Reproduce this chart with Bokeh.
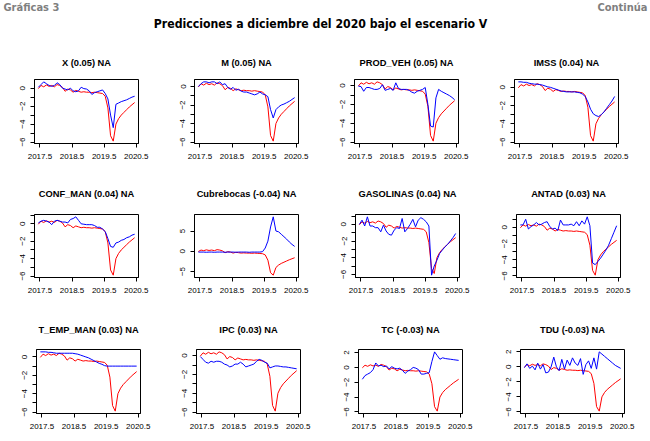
from bokeh.plotting import figure
from bokeh.layouts import column, row
from bokeh.models import FixedTicker, Label, DataRange1d, Range1d
from bokeh.embed import file_html
from bokeh.resources import INLINE

# ---------------- data ----------------
fecha = [round(2017.45 + k / 12, 4) for k in range(37)]  # monthly time index

# escenario V (red, common to all panels)
escenario_v = [-0.05, 0.3, 0.15, 0.35, 0.2, 0.3, 0.15, 0.4, 0.3, 0.1, -0.35, -0.1,
               -0.2, -0.45, -0.25, -0.35, -0.45, -0.4, -0.45, -0.45, -0.5, -0.45,
               -0.5, -0.55, -0.6, -0.9, -2.2, -5.3, -5.9, -4.0, -3.4, -3.0, -2.7,
               -2.4, -2.1, -1.85, -1.6]

x_blue = [0.1, 0.4, 0.7, 0.5, 0.3, 0.2, 0.3, 0.6, 0.4, 0.0, -0.1, -0.2, 0.0, -0.3,
          -0.4, -0.3, 0.1, -0.05, -0.1, -0.3, -0.7, -0.5, -0.4, -0.3, -0.2, -0.6,
          -1.2, -3.0, -4.4, -1.8, -1.65, -1.5, -1.4, -1.3, -1.15, -1.0, -0.9]
m_blue = [0.0, 0.3, 0.5, 0.5, 0.4, 0.5, 0.5, 0.3, 0.5, 0.2, 0.3, -0.1, -0.3, -0.1,
          -0.4, -0.3, -0.5, -0.6, -0.6, -0.7, -0.8, -0.9, -0.8, -0.6, -0.8, -0.9,
          -1.1, -2.5, -3.4, -2.5, -2.2, -2.0, -1.9, -1.75, -1.6, -1.4, -1.2]
prod_veh_blue = [-0.05, -0.1, -0.6, -0.2, -0.2, -0.3, -0.4, -0.4, -0.3, 0.1, -0.5,
                 -0.4, -0.3, -0.5, 0.3, -0.3, -0.4, -0.4, -0.4, -0.5, -0.7, -0.8,
                 -0.6, -0.5, -0.4, -0.2, -2.0, -4.3, -4.4, -1.3, -0.4, -0.6, -0.75,
                 -0.9, -1.05, -1.25, -1.5]
imss_blue = [0.6, 0.6, 0.55, 0.55, 0.45, 0.4, 0.35, 0.35, 0.3, 0.25, 0.15, 0.05, 0.0,
             -0.1, -0.2, -0.3, -0.4, -0.45, -0.5, -0.5, -0.5, -0.5, -0.55, -0.6,
             -0.75, -1.0, -1.6, -2.4, -2.9, -3.1, -3.2, -3.0, -2.7, -2.3, -1.9,
             -1.5, -1.0]
conf_man_blue = [0.1, 0.3, 0.4, 0.3, 0.2, -0.1, 0.3, 0.4, 0.3, 0.2, 0.2, 0.1, 0.5,
                 0.6, 0.8, 0.4, 0.0, -0.05, -0.1, -0.1, -0.1, -0.2, -0.4, -0.4, -0.6,
                 -0.9, -1.7, -2.6, -2.7, -2.2, -2.1, -1.9, -1.8, -1.6, -1.5, -1.3, -1.2]
cubrebocas_blue = [-0.2, -0.2, -0.2, -0.25, -0.2, -0.2, -0.25, -0.2, -0.2, -0.2,
                   -0.25, -0.2, -0.2, -0.2, -0.25, -0.2, -0.2, -0.2, -0.2, -0.25,
                   -0.2, -0.2, -0.2, -0.2, -0.1, 0.8, 2.5, 6.0, 8.5, 5.0, 4.8, 4.2,
                   3.6, 3.0, 2.3, 1.7, 1.2]
gasolinas_blue = [0.0, 0.5, -0.2, 0.9, -0.2, -0.2, -0.4, -0.4, -0.9, -0.1, -0.8,
                  -1.2, -1.3, -0.7, -0.4, -0.5, 0.7, -0.9, -0.5, 0.0, 0.6, -0.3, 0.5,
                  0.8, 0.6, 0.3, -0.2, -6.1, -5.0, -4.3, -3.5, -3.1, -2.7, -2.4,
                  -2.0, -1.6, -1.1]
antad_blue = [0.3, 0.3, 1.0, -0.2, 0.1, 0.3, 0.6, 0.3, 0.4, 0.6, 0.7, 0.1, -0.2,
              -0.1, -0.4, 0.9, 0.3, 0.3, 0.3, 0.4, 0.2, 0.7, 0.2, 0.8, 0.4, 1.3, 0.2,
              -4.4, -4.6, -4.2, -3.8, -3.3, -2.8, -2.2, -1.4, -0.6, 0.2]
t_emp_man_blue = [0.55, 0.55, 0.55, 0.5, 0.5, 0.45, 0.4, 0.4, 0.4, 0.4, 0.4, 0.4,
                  0.4, 0.35, 0.3, 0.2, 0.1, 0.0, -0.1, -0.25, -0.4, -0.55, -0.7,
                  -0.8, -0.95, -1.0, -1.0, -1.0, -1.0, -1.0, -1.0, -1.0, -1.0, -1.0,
                  -1.0, -1.0, -1.0]
ipc_blue = [-0.1, -0.4, -0.7, -0.8, -0.6, -0.7, -0.6, -0.6, -0.7, -0.9, -1.0, -1.2,
            -1.1, -0.9, -0.9, -0.7, -0.9, -1.2, -1.1, -1.0, -0.9, -0.6, -0.4, -0.5,
            -0.7, -0.8, -1.3, -1.2, -1.1, -1.1, -1.15, -1.2, -1.2, -1.25, -1.3,
            -1.35, -1.4]
tc_blue = [-1.6, -1.1, -0.9, -0.7, -0.3, 0.6, 0.2, 0.3, 0.1, 0.2, -0.2, 0.1, -0.1,
           -0.2, -0.1, -0.4, -0.8, -0.5, -0.3, 0.0, -0.1, -0.3, -0.9, -0.9, -0.8,
           -0.7, 0.8, 2.1, 1.6, 1.1, 1.3, 1.2, 1.15, 1.1, 1.05, 1.0, 0.95]
tdu_blue = [-0.1, 0.4, -0.2, 0.1, -0.4, 0.5, -0.3, 0.3, -0.8, -0.7, 0.0, 1.3, 0.0,
            -0.5, 1.0, -0.3, 0.9, 0.2, 1.2, 0.5, 0.2, 1.1, -1.0, 0.3, 0.8, -0.2,
            1.2, -0.3, 2.0, 1.7, 1.4, 1.1, 0.8, 0.5, 0.2, 0.0, -0.2]

variables = ["X", "M", "PROD_VEH", "IMSS", "CONF_MAN", "Cubrebocas", "GASOLINAS",
             "ANTAD", "T_EMP_MAN", "IPC", "TC", "TDU"]
coefs = ["0.05", "0.05", "0.05", "0.04", "0.04", "-0.04", "0.04", "0.03", "0.03",
         "0.03", "-0.03", "-0.03"]
blues = [x_blue, m_blue, prod_veh_blue, imss_blue, conf_man_blue, cubrebocas_blue,
         gasolinas_blue, antad_blue, t_emp_man_blue, ipc_blue, tc_blue, tdu_blue]

x_ticks = [2017.5, 2018.5, 2019.5, 2020.5]
y_ticks_a = [-6, -4, -2, 0]          # labelled
y_minor_a = [-5, -3, -1, 1]          # unlabelled
y_ticks_cub = [-5, 0, 5]
y_ticks_two = [-6, -4, -2, 0, 2]
y_major = [y_ticks_a] * 5 + [y_ticks_cub] + [y_ticks_a] * 4 + [y_ticks_two] * 2
y_minor = [y_minor_a] * 5 + [[]] + [y_minor_a] * 4 + [[]] * 2

FONT = "Liberation Sans"
HEAD_FONT = "DejaVu Sans Condensed"

# page layout (pixels)
FRAME_W = 104
col_width = [166, 160, 160, 164]
col_left = [[34, 28, 28, 28], [34, 28, 29, 30], [36, 30, 32, 34]]
# (border top, frame height, border bottom)
row_specs = [(7, 64, 43), (8, 63, 45), (7, 64, 27)]
# title strips: (height, title centre measured from strip top)
strip_specs = [(72, 62), (20, 7), (20, 7)]


def frame_centres(r):
    out, x0 = [], 0
    for c in range(4):
        out.append(x0 + col_left[r][c] + FRAME_W / 2)
        x0 += col_width[c]
    return out


def strip(height):
    s = figure(width=650, height=height, output_backend="svg", toolbar_location=None,
               x_range=Range1d(0, 650), y_range=Range1d(0, height),
               x_axis_location=None, y_axis_location=None, min_border=0,
               outline_line_color=None)
    s.xgrid.visible = False
    s.ygrid.visible = False
    return s


def panel(i, ml, total_w, mt, fh, mb):
    mr = total_w - ml - FRAME_W
    p = figure(width=total_w, height=mt + fh + mb,
               output_backend="svg", toolbar_location=None,
               min_border_left=ml, min_border_right=mr,
               min_border_top=mt, min_border_bottom=mb,
               x_range=DataRange1d(range_padding=0.08),
               y_range=DataRange1d(range_padding=0.08))
    p.line(fecha, escenario_v, line_color="red", line_width=1)
    p.line(fecha, blues[i], line_color="blue", line_width=1)
    p.xaxis.ticker = FixedTicker(ticks=x_ticks)
    p.yaxis.ticker = FixedTicker(ticks=y_major[i], minor_ticks=y_minor[i])
    for ax in (p.xaxis[0], p.yaxis[0]):
        ax.major_tick_out = 4
        ax.major_tick_in = 0
        ax.minor_tick_out = 4
        ax.minor_tick_in = 0
        ax.axis_line_color = "black"
        ax.major_tick_line_color = "black"
        ax.minor_tick_line_color = "black"
        ax.major_label_text_font = FONT
        ax.major_label_text_font_size = "8px"
        ax.major_label_text_color = "black"
    p.xaxis.major_label_standoff = 6
    p.yaxis.major_label_standoff = 5
    p.yaxis.major_label_orientation = "vertical"
    p.xgrid.visible = False
    p.ygrid.visible = False
    p.outline_line_color = "black"
    p.outline_line_alpha = 1
    p.background_fill_color = "white"
    p.border_fill_color = "white"
    return p


items = []
for r in range(3):
    sh, tc = strip_specs[r]
    s = strip(sh)
    if r == 0:
        s.add_layout(Label(x=3, y=sh - 7, x_units="screen", y_units="screen",
                           text="Gráficas 3", text_font=HEAD_FONT,
                           text_font_size="11px", text_font_style="bold",
                           text_color="#7f7f7f", text_align="left",
                           text_baseline="middle"))
        s.add_layout(Label(x=647, y=sh - 7, x_units="screen", y_units="screen",
                           text="Continúa", text_font=HEAD_FONT,
                           text_font_size="11px", text_font_style="bold",
                           text_color="#7f7f7f", text_align="right",
                           text_baseline="middle"))
        s.add_layout(Label(x=320, y=sh - 23, x_units="screen", y_units="screen",
                           text="Predicciones a diciembre del 2020 bajo el escenario V",
                           text_font=HEAD_FONT, text_font_size="12.2px",
                           text_font_style="bold", text_color="black",
                           text_align="center", text_baseline="middle"))
    for c, xc in enumerate(frame_centres(r)):
        i = r * 4 + c
        s.add_layout(Label(x=xc, y=sh - tc, x_units="screen", y_units="screen",
                           text=f"{variables[i]} ({coefs[i]}) NA", text_font=FONT,
                           text_font_size="9.3px", text_font_style="bold",
                           text_color="black", text_align="center",
                           text_baseline="middle"))
    items.append(s)
    mt, fh, mb = row_specs[r]
    figs = [panel(r * 4 + c, col_left[r][c], col_width[c], mt, fh, mb)
            for c in range(4)]
    items.append(row(*figs))

layout = column(*items)
open("out.html", "w").write(file_html(layout, INLINE))
